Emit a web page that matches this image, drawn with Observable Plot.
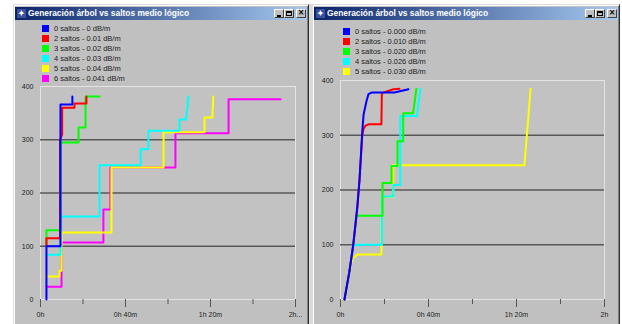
<!DOCTYPE html>
<html><head><meta charset="utf-8">
<script src="https://cdn.jsdelivr.net/npm/d3@7"></script>
<script src="https://cdn.jsdelivr.net/npm/@observablehq/plot@0.6"></script>
<style>
html,body{margin:0;padding:0;background:#fff;}
body{width:622px;height:324px;overflow:hidden;position:relative;font-family:"Liberation Sans",Arial,sans-serif;}
.abs{position:absolute;}
.win{background:#c0c0c0;box-sizing:border-box;border-left:1px solid #dcdcdc;border-top:1px solid #dcdcdc;border-right:1px solid #303030;box-shadow:inset 1px 1px 0 #ffffff,inset -1px 0 0 #808080;}
.gap{background:#dadada;}
.title{background:linear-gradient(to right,#0a246a,#a6caf0);color:#fff;font-weight:bold;font-size:8.4px;line-height:13px;white-space:nowrap;overflow:hidden;}
.icon{background:#3c4f9c;color:#fff;font-size:8px;line-height:9px;text-align:center;}
.btn{background:#c0c0c0;box-sizing:border-box;border:1px solid;border-color:#fff #404040 #404040 #fff;}
.leg{font-size:7.5px;color:#222;white-space:nowrap;line-height:10.1px;}
.sw{display:inline-block;width:7px;height:7px;vertical-align:-1px;margin-right:5px;}
svg{position:absolute;}
</style>
</head><body>
<script>
// ---- data ----
const titleText = "Generación árbol vs saltos medio lógico";
const colors = ["#0000ff", "#ff0000", "#00ff00", "#00ffff", "#ffff00", "#ff00ff"];
const leftLabels = ["0 saltos - 0 dB/m", "2 saltos - 0.01 dB/m", "3 saltos - 0.02 dB/m", "4 saltos - 0.03 dB/m", "5 saltos - 0.04 dB/m", "6 saltos - 0.041 dB/m"];
const rightLabels = ["0 saltos - 0.000 dB/m", "2 saltos - 0.010 dB/m", "3 saltos - 0.020 dB/m", "4 saltos - 0.026 dB/m", "5 saltos - 0.030 dB/m"];
const yTicks = [0, 100, 200, 300, 400];
const gridValues = [100, 200, 300];
const xTicks = [0, 40, 80, 120];          // minutes
const xMinorTicks = [20, 60, 100];
const xTickLabelsL = ["0h", "0h 40m", "1h 20m", "2h..."];
const xTickLabelsR = ["0h", "0h 40m", "1h 20m", "2h"];

// left chart: [minutes, value]
const left0 = [[2.8,0],[2.8,100],[9.4,100],[9.4,366],[15,366],[15,381]];
const left2 = [[2.8,100],[2.8,115],[9.2,115],[9.2,300],[10.2,310],[10.2,360],[16,360],[16,368],[21.6,368],[21.6,381]];
const left3 = [[2.8,100],[2.8,130],[9.4,130],[9.4,295],[17.9,295],[17.9,323],[21.2,323],[21.2,379],[21.5,381],[27.8,381]];
const left4 = [[2.8,84],[9.4,84],[9.4,156],[27.8,156],[27.8,252],[47.1,252],[47.1,282],[50.8,282],[50.8,317],[65.4,317],[65.4,338],[68.5,338],[69.6,381]];
const left5 = [[2.8,43],[8.9,43],[8.9,54],[9.9,54],[9.9,126],[33.4,126],[33.4,248],[57.9,248],[57.9,314],[77.2,314],[77.2,342],[80.9,342],[81.3,381]];
const left6 = [[2.8,24],[9.9,24],[9.9,107],[29.6,107],[29.6,169],[32.9,169],[32.9,248],[63.5,248],[63.5,312],[88.5,312],[88.5,376],[113,376]];

// right chart: [minutes, value]
const right0 = [[1.8,0],[4,50],[5.8,100],[7.6,167],[8.6,216],[9.9,307],[10.5,338],[11.8,362],[12.7,375],[14.1,378],[24.5,378],[30.9,384]];
const right2 = [[1.8,0],[4,50],[5.8,100],[7.6,167],[8.6,216],[9.9,300],[10.5,312],[11.5,318],[13,320],[18.6,320],[18.8,377],[21,380],[24,384],[26.8,385]];
const right3 = [[1.8,0],[4,50],[5.8,100],[7.3,153],[19.1,153],[19.1,213],[23.2,213],[23.2,244],[25.9,244],[25.9,289],[28.5,289],[28.5,340],[33,340],[34.5,385]];
const right4 = [[1.8,0],[4,50],[5.8,97],[7,100],[18.8,100],[18.8,188],[24,188],[24,209],[27.2,209],[27.2,335],[34.8,335],[36.3,385]];
const right5 = [[1.8,0],[4,50],[5.5,75],[7.7,82],[18.6,82],[18.8,187],[24,187],[24,245],[83.6,245],[86.4,385]];

const leftSeries = [left0, left2, left3, left4, left5, left6];
const rightSeries = [right0, right2, right3, right4, right5];

// ---- layout helpers ----
function el(cls, css, html) {
  const d = document.createElement("div");
  d.className = "abs " + cls;
  Object.assign(d.style, css);
  if (html != null) d.innerHTML = html;
  document.body.appendChild(d);
  return d;
}

function windowFrame(left, width, legendLeft, legendTop, labels) {
  el("win", {left: left + "px", top: "4px", width: width + "px", height: "340px"});
  const tl = left + 2, tw = width - 4;
  const t = el("title", {left: tl + "px", top: "7px", width: tw + "px", height: "13px"});
  const ic = document.createElement("div");
  ic.className = "abs icon";
  Object.assign(ic.style, {left: "2px", top: "2px", width: "9px", height: "9px"});
  ic.textContent = "✦";
  t.appendChild(ic);
  const tx = document.createElement("div");
  tx.className = "abs";
  Object.assign(tx.style, {left: "13px", top: "0px"});
  tx.textContent = titleText;
  t.appendChild(tx);
  const right = tl + tw;
  // buttons
  const mk = (l, inner) => el("btn", {left: l + "px", top: "9px", width: "10px", height: "9px"}, inner);
  mk(right - 33, '<div class="abs" style="left:2px;top:5px;width:4px;height:2px;background:#000"></div>');
  mk(right - 23, '<div class="abs" style="left:1px;top:1px;width:6px;height:5px;box-sizing:border-box;border:1px solid #000;border-top-width:2px"></div>');
  mk(right - 11, '<div class="abs" style="left:0;top:-1px;width:8px;text-align:center;font:bold 8px \'DejaVu Sans\';line-height:8px;color:#000">×</div>');
  // legend
  const lg = el("leg", {left: legendLeft + "px", top: legendTop + "px"});
  lg.innerHTML = labels.map((s, i) => `<div><span class="sw" style="background:${colors[i]}"></span>${s}</div>`).join("");
}

function chart(series, tickLabels, opts) {
  const marks = [
    Plot.frame({fill: "#c2c2c2", stroke: "#e4e4e4"}),
    Plot.ruleY(gridValues, {stroke: "#585858", strokeWidth: 1.4}),
    Plot.axisY(yTicks, {tickSize: 0, tickPadding: 7, fontSize: 7, fill: "#222"}),
    Plot.axisX(xMinorTicks, {tickSize: 5, stroke: "#555", tickFormat: () => ""}),
    Plot.axisX(xTicks, {tickSize: 8, tickPadding: 5, stroke: "#555", fontSize: 7, fill: "#222",
      tickFormat: d => tickLabels[xTicks.indexOf(d)]})
  ];
  for (let i = series.length - 1; i >= 0; i--) {
    marks.push(Plot.line(series[i], {x: d => d[0], y: d => d[1], stroke: colors[i], strokeWidth: 2, curve: "linear"}));
  }
  const svg = Plot.plot({
    width: opts.width, height: opts.height,
    marginLeft: opts.ml, marginRight: opts.mr, marginTop: opts.mt, marginBottom: opts.mb,
    x: {domain: [0, 120]},
    y: {domain: [0, 400]},
    style: {background: "transparent", color: "#222", fontFamily: "Liberation Sans, Arial, sans-serif", fontSize: "7px", overflow: "visible"},
    marks
  });
  svg.style.left = opts.left + "px";
  svg.style.top = opts.top + "px";
  document.body.appendChild(svg);
}

el("gap", {left: "309px", top: "4px", width: "3px", height: "330px"});
windowFrame(13, 296, 42, 24, leftLabels);
windowFrame(312, 308, 343, 27, rightLabels);

chart(leftSeries, xTickLabelsL, {left: 13, top: 80, width: 296, height: 244, ml: 27, mr: 14, mt: 6, mb: 25});
chart(rightSeries, xTickLabelsR, {left: 312, top: 74, width: 308, height: 250, ml: 28, mr: 16, mt: 6, mb: 25});
</script>
</body></html>
